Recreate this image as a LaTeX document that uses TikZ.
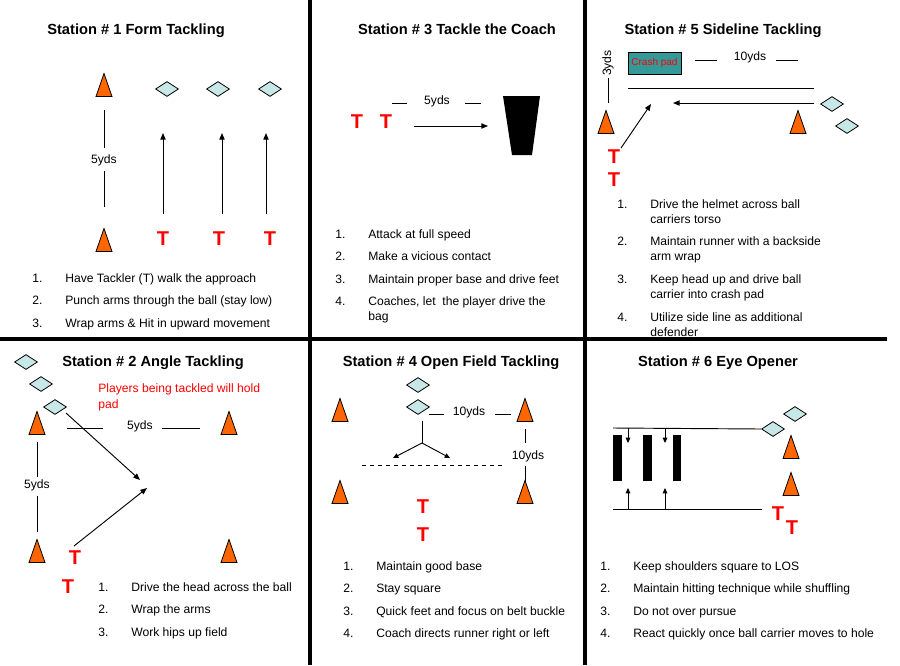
\documentclass[tikz,border=0pt]{standalone}
\usepackage{fontspec}
\setmainfont{Liberation Sans}
\usepackage{tikz}
\usetikzlibrary{arrows.meta, shapes.geometric}

\definecolor{coneorange}{RGB}{255,102,0}
\definecolor{padblue}{RGB}{200,232,232}
\definecolor{crashteal}{RGB}{51,153,153}
\definecolor{tred}{RGB}{255,0,0}

\newcommand\bodyfont{\fontsize{9.1}{11.4}\selectfont}
\newcommand\cone[1]{\draw[cone, shift={(#1)}] (-8,11.5) -- (8,11.5) -- (0,-11.5) -- cycle;}

\begin{document}
\begin{tikzpicture}[x=0.75pt, y=-0.75pt,
  title/.style={font=\fontsize{11}{13}\selectfont\bfseries, anchor=base, inner sep=0pt},
  tk/.style={text=tred, font=\fontsize{15}{18}\selectfont\bfseries, inner sep=0pt},
  dia/.style={diamond, draw, fill=padblue, line width=0.6pt,
              minimum width=17.25pt, minimum height=11.25pt, inner sep=0pt},
  cone/.style={draw, fill=coneorange, line width=0.6pt},
  lbl/.style={font=\bodyfont, inner sep=1pt},
  steps/.style={font=\bodyfont, anchor=base west, inner sep=0pt},
  arr/.style={-{Triangle[length=5pt,width=4pt]}, line width=0.7pt},
  sarr/.style={-{Triangle[length=4pt,width=3.5pt]}, line width=0.7pt},
  ln/.style={line width=0.7pt},
  divider/.style={line width=2.3pt}
]
  \useasboundingbox (0,0) rectangle (900,665);

  \draw[divider] (0,339) -- (887,339);
  \draw[divider] (310,0) -- (310,665);
  \draw[divider] (585,0) -- (585,665);

  % Station 1
  \node[title] (title1) at (136,34) {Station \# 1 Form Tackling};
  \cone{104,85}
  \cone{104,240}
  \node[lbl] (yd1) at (104,160) {5yds};
  \coordinate (v1a) at (104,110);
  \coordinate (v1b) at (104,148);
  \coordinate (v1c) at (104,171);
  \coordinate (v1d) at (104,207);
  \draw[ln] (v1a) -- (v1b);
  \draw[ln] (v1c) -- (v1d);
  \node[dia] (d11) at (167,89) {};
  \node[dia] (d12) at (218,89) {};
  \node[dia] (d13) at (270,89) {};
  \coordinate (a11) at (163,214);
  \coordinate (b11) at (163,133);
  \coordinate (a12) at (222,214);
  \coordinate (b12) at (222,133);
  \coordinate (a13) at (266,214);
  \coordinate (b13) at (266,133);
  \draw[arr] (a11) -- (b11);
  \draw[arr] (a12) -- (b12);
  \draw[arr] (a13) -- (b13);
  \node[tk] (t11) at (163,239) {T};
  \node[tk] (t12) at (219,239) {T};
  \node[tk] (t13) at (270,239) {T};
  \node[steps] (list1) at (32,282) {\begin{tabular}[t]{@{}p{24.75pt}@{}l@{}}
    1.&Have Tackler (T) walk the approach\\[5.5pt]
    2.&Punch arms through the ball (stay low)\\[5.5pt]
    3.&Wrap arms \& Hit in upward movement
  \end{tabular}};

  % Station 3
  \node[title] (title3) at (457,34) {Station \# 3 Tackle the Coach};
  \node[tk] (t31) at (357,122) {T};
  \node[tk] (t32) at (386,122) {T};
  \node[lbl] (yd3) at (437,101) {5yds};
  \coordinate (h3a) at (392,103);
  \coordinate (h3b) at (407,103);
  \coordinate (h3c) at (465,103);
  \coordinate (h3d) at (481,103);
  \draw[ln] (h3a) -- (h3b);
  \draw[ln] (h3c) -- (h3d);
  \coordinate (a31) at (414,126);
  \coordinate (b31) at (488,126);
  \draw[arr] (a31) -- (b31);
  \fill (503,96) -- (540,96) -- (532,155) -- (512,155) -- cycle;
  \node[steps] (list3) at (335,238) {\begin{tabular}[t]{@{}p{24.75pt}@{}l@{}}
    1.&Attack at full speed\\[5.5pt]
    2.&Make a vicious contact\\[5.5pt]
    3.&Maintain proper base and drive feet\\[5.5pt]
    4.&Coaches, let~ the player drive the\\
      &bag
  \end{tabular}};

  % Station 5
  \node[title] (title5) at (723,34) {Station \# 5 Sideline Tackling};
  \node[draw, fill=crashteal, line width=0.6pt, minimum width=39.75pt, minimum height=16.5pt,
        inner sep=0pt, text=tred, font=\fontsize{7.5}{9}\selectfont] (pad) at (654.5,63) {Crash pad};
  \node[lbl, rotate=90] (yd5a) at (608,63) {3yds};
  \coordinate (v5a) at (608,78);
  \coordinate (v5b) at (608,103);
  \draw[ln] (v5a) -- (v5b);
  \node[lbl] (yd5b) at (750,57) {10yds};
  \coordinate (h5a) at (695,60);
  \coordinate (h5b) at (717,60);
  \coordinate (h5c) at (776,60);
  \coordinate (h5d) at (798,60);
  \draw[ln] (h5a) -- (h5b);
  \draw[ln] (h5c) -- (h5d);
  \coordinate (side1) at (628,88);
  \coordinate (side2) at (814,88);
  \draw[ln] (side1) -- (side2);
  \coordinate (a51) at (814,103);
  \coordinate (b51) at (673,103);
  \draw[arr] (a51) -- (b51);
  \cone{606,122}
  \cone{798,122}
  \node[dia] (d51) at (832,104) {};
  \node[dia] (d52) at (847,126) {};
  \node[tk] (t51) at (614,157) {T};
  \node[tk] (t52) at (614,180) {T};
  \coordinate (a52) at (621,148);
  \coordinate (b52) at (651,104);
  \draw[arr] (a52) -- (b52);
  \node[steps] (list5) at (617,208) {\begin{tabular}[t]{@{}p{24.75pt}@{}l@{}}
    1.&Drive the helmet across ball\\
      &carriers torso\\[5.5pt]
    2.&Maintain runner with a backside\\
      &arm wrap\\[5.5pt]
    3.&Keep head up and drive ball\\
      &carrier into crash pad\\[5.5pt]
    4.&Utilize side line as additional\\
      &defender
  \end{tabular}};

  % Station 2
  \node[title] (title2) at (153,366) {Station \# 2 Angle Tackling};
  \node[dia] (d21) at (26,362) {};
  \node[dia] (d22) at (41,384) {};
  \node[dia] (d23) at (55,407) {};
  \node[lbl, text=tred, anchor=base west, align=left, inner sep=0pt] (note2) at (98,408)
    {Players being tackled will hold\\pad};
  \cone{37,423}
  \cone{229,423}
  \cone{37,551}
  \cone{229,551}
  \node[lbl] (yd2a) at (140,426) {5yds};
  \coordinate (h2a) at (67,428);
  \coordinate (h2b) at (103,428);
  \coordinate (h2c) at (162,428);
  \coordinate (h2d) at (200,428);
  \draw[ln] (h2a) -- (h2b);
  \draw[ln] (h2c) -- (h2d);
  \node[lbl] (yd2b) at (37,485) {5yds};
  \coordinate (v2a) at (37,442);
  \coordinate (v2b) at (37,477);
  \coordinate (v2c) at (37,496);
  \coordinate (v2d) at (37,532);
  \draw[ln] (v2a) -- (v2b);
  \draw[ln] (v2c) -- (v2d);
  \coordinate (a21) at (66,413);
  \coordinate (b21) at (140,480);
  \coordinate (a22) at (74,546);
  \coordinate (b22) at (147,488);
  \draw[arr] (a21) -- (b21);
  \draw[arr] (a22) -- (b22);
  \node[tk] (t21) at (75,558) {T};
  \node[tk] (t22) at (68,587) {T};
  \node[steps] (list2) at (98,591) {\begin{tabular}[t]{@{}p{24.75pt}@{}l@{}}
    1.&Drive the head across the ball\\[5.5pt]
    2.&Wrap the arms\\[5.5pt]
    3.&Work hips up field
  \end{tabular}};

  % Station 4
  \node[title] (title4) at (451,366) {Station \# 4 Open Field Tackling};
  \node[dia] (d41) at (418,385) {};
  \node[dia] (d42) at (418,407) {};
  \cone{340,410}
  \cone{525,410}
  \cone{340,492}
  \cone{525,492}
  \node[lbl] (yd4a) at (469,412) {10yds};
  \coordinate (h4a) at (429,414);
  \coordinate (h4b) at (444,414);
  \coordinate (h4c) at (495,414);
  \coordinate (h4d) at (511,414);
  \draw[ln] (h4a) -- (h4b);
  \draw[ln] (h4c) -- (h4d);
  \node[lbl] (yd4b) at (528,456) {10yds};
  \coordinate (v4a) at (525,429);
  \coordinate (v4b) at (525,443);
  \coordinate (v4c) at (525,466);
  \coordinate (v4d) at (525,482);
  \draw[ln] (v4a) -- (v4b);
  \draw[ln] (v4c) -- (v4d);
  \coordinate (y4top) at (422,421);
  \coordinate (y4mid) at (422,443);
  \coordinate (y4l) at (393,458);
  \coordinate (y4r) at (450,458);
  \draw[ln] (y4top) -- (y4mid);
  \draw[sarr] (y4mid) -- (y4l);
  \draw[sarr] (y4mid) -- (y4r);
  \coordinate (los4a) at (362,465);
  \coordinate (los4b) at (502,465);
  \draw[ln, dashed] (los4a) -- (los4b);
  \node[tk] (t41) at (423,507) {T};
  \node[tk] (t42) at (423,535) {T};
  \node[steps] (list4) at (343,570) {\begin{tabular}[t]{@{}p{24.75pt}@{}l@{}}
    1.&Maintain good base\\[5.5pt]
    2.&Stay square\\[5.5pt]
    3.&Quick feet and focus on belt buckle\\[5.5pt]
    4.&Coach directs runner right or left
  \end{tabular}};

  % Station 6
  \node[title] (title6) at (718,366) {Station \# 6 Eye Opener};
  \node[dia] (d61) at (795,414) {};
  \node[dia] (d62) at (773,429) {};
  \coordinate (top6) at (613,428);
  \draw[ln] (top6) -- (d62.west);
  \fill (613,435) rectangle (622,481);
  \fill (643,435) rectangle (652,481);
  \fill (673,435) rectangle (681,481);
  \coordinate (a61) at (628,428);
  \coordinate (b61) at (628,443);
  \coordinate (a62) at (665,428);
  \coordinate (b62) at (665,443);
  \draw[sarr] (a61) -- (b61);
  \draw[sarr] (a62) -- (b62);
  \coordinate (bot6a) at (613,509);
  \coordinate (bot6b) at (762,509);
  \draw[ln] (bot6a) -- (bot6b);
  \coordinate (a63) at (628,509);
  \coordinate (b63) at (628,488);
  \coordinate (a64) at (665,509);
  \coordinate (b64) at (665,488);
  \draw[sarr] (a63) -- (b63);
  \draw[sarr] (a64) -- (b64);
  \cone{791,447}
  \cone{791,484}
  \node[tk] (t61) at (778,514) {T};
  \node[tk] (t62) at (792,528) {T};
  \node[steps] (list6) at (600,570) {\begin{tabular}[t]{@{}p{24.75pt}@{}l@{}}
    1.&Keep shoulders square to LOS\\[5.5pt]
    2.&Maintain hitting technique while shuffling\\[5.5pt]
    3.&Do not over pursue\\[5.5pt]
    4.&React quickly once ball carrier moves to hole
  \end{tabular}};
\end{tikzpicture}
\end{document}
